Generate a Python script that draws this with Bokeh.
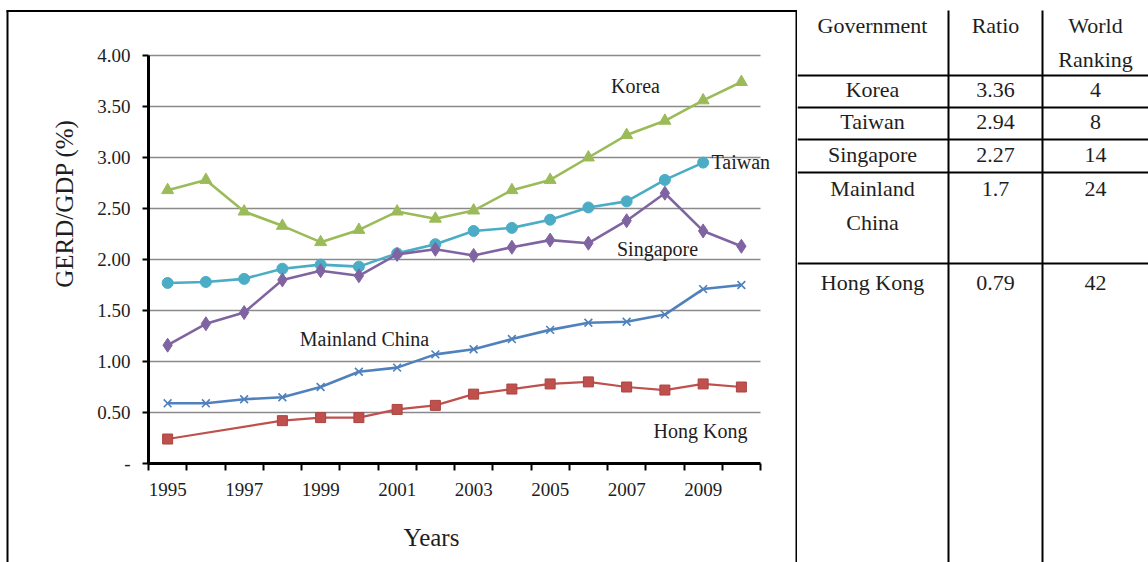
import math
from bokeh.plotting import figure
from bokeh.layouts import row
from bokeh.models import (LinearAxis, FixedTicker, Range1d, Label,
                          ColumnDataSource, CustomJSTickFormatter)
from bokeh.core.properties import value
from bokeh.embed import file_html
from bokeh.resources import INLINE

# ---------------- data ----------------
years = [1995, 1996, 1997, 1998, 1999, 2000, 2001, 2002,
         2003, 2004, 2005, 2006, 2007, 2008, 2009, 2010]
korea = [2.68, 2.78, 2.47, 2.33, 2.17, 2.29, 2.47, 2.40,
         2.48, 2.68, 2.78, 3.00, 3.22, 3.36, 3.56, 3.74]
taiwan_years = [1995, 1996, 1997, 1998, 1999, 2000, 2001, 2002,
                2003, 2004, 2005, 2006, 2007, 2008, 2009]
taiwan = [1.77, 1.78, 1.81, 1.91, 1.95, 1.93, 2.06, 2.15,
          2.28, 2.31, 2.39, 2.51, 2.57, 2.78, 2.95]
singapore = [1.16, 1.37, 1.48, 1.80, 1.89, 1.84, 2.05, 2.10,
             2.04, 2.12, 2.19, 2.16, 2.38, 2.65, 2.28, 2.13]
china = [0.59, 0.59, 0.63, 0.65, 0.75, 0.90, 0.94, 1.07,
         1.12, 1.22, 1.31, 1.38, 1.39, 1.46, 1.71, 1.75]
hk_years = [1995, 1998, 1999, 2000, 2001, 2002, 2003,
            2004, 2005, 2006, 2007, 2008, 2009, 2010]
hong_kong = [0.24, 0.42, 0.45, 0.45, 0.53, 0.57, 0.68,
             0.73, 0.78, 0.80, 0.75, 0.72, 0.78, 0.75]

y_ticks = [0, 0.5, 1.0, 1.5, 2.0, 2.5, 3.0, 3.5, 4.0]
x_label_years = [1995, 1997, 1999, 2001, 2003, 2005, 2007, 2009]
series_names = ["Korea", "Taiwan", "Singapore", "Mainland China", "Hong Kong"]
y_title = "GERD/GDP (%)"
x_title = "Years"

table_header = ["Government", "Ratio", "World\nRanking"]
table_gov = ["Korea", "Taiwan", "Singapore", "Mainland\nChina", "Hong Kong"]
table_ratio = ["3.36", "2.94", "2.27", "1.7", "0.79"]
table_rank = ["4", "8", "14", "24", "42"]

# ---------------- layout / style ----------------
CHART_W, TABLE_W, H = 797, 351, 562
PX_YEAR = 38.25      # pixels per category
PX_UNIT = 102.0      # pixels per 1.0 on y
AX_X0 = 148          # px of left edge of first category
AX_Y0 = 463          # px of y = 0
FONT = "Liberation Serif"
TXT = "#1e1e1e"

x_start = years[0] - 0.5 - AX_X0 / PX_YEAR
x_end = x_start + CHART_W / PX_YEAR
y_start = -(H - AX_Y0) / PX_UNIT
y_end = y_start + H / PX_UNIT
cat_lo = years[0] - 0.5
cat_hi = years[-1] + 0.5


def dx(px):
    return x_start + px / PX_YEAR


def dy(py):
    return y_end - py / PX_UNIT


p = figure(width=CHART_W, height=H,
           x_range=Range1d(x_start, x_end), y_range=Range1d(y_start, y_end),
           output_backend="svg", toolbar_location=None,
           x_axis_location=None, y_axis_location=None,
           min_border=0, outline_line_color=None)
p.grid.visible = False
p.background_fill_color = "white"

# panel borders (left, top, right)
p.segment(x0=[dx(7), dx(6), dx(796)], x1=[dx(7), dx(797), dx(796)],
          y0=[dy(10), dy(10.5), dy(10)], y1=[dy(H), dy(10.5), dy(H)],
          line_color="black", line_width=2)

# horizontal gridlines
gl = y_ticks[1:]
p.segment(x0=[cat_lo] * len(gl), x1=[cat_hi] * len(gl), y0=gl, y1=gl,
          line_color="#8a8a8a", line_width=1.6)

# axes
yfmt = CustomJSTickFormatter(code="return tick == 0 ? '-' : tick.toFixed(2);")
yax = LinearAxis(fixed_location=cat_lo, bounds=(y_ticks[0], y_ticks[-1]),
                 ticker=FixedTicker(ticks=y_ticks), formatter=yfmt,
                 axis_line_width=3, axis_line_color="black",
                 major_tick_out=6, major_tick_in=0, major_tick_line_width=2,
                 minor_tick_line_color=None, major_label_standoff=12,
                 major_label_text_font=FONT, major_label_text_font_size="19px",
                 major_label_text_color=TXT)
p.add_layout(yax, "left")

bounds_ticks = [y - 0.5 for y in years] + [years[-1] + 0.5]
xax = LinearAxis(fixed_location=0, bounds=(cat_lo, cat_hi),
                 ticker=FixedTicker(ticks=bounds_ticks),
                 formatter=CustomJSTickFormatter(code="return '';"),
                 axis_line_width=3, axis_line_color="black",
                 major_tick_out=7, major_tick_in=0, major_tick_line_width=2,
                 minor_tick_line_color=None)
p.add_layout(xax, "below")
xlab = LinearAxis(fixed_location=0, ticker=FixedTicker(ticks=x_label_years),
                  formatter=CustomJSTickFormatter(code="return tick.toFixed(0);"),
                  axis_line_color=None, major_tick_line_color=None,
                  major_tick_out=0, major_tick_in=0, minor_tick_line_color=None,
                  major_label_standoff=19,
                  major_label_text_font=FONT, major_label_text_font_size="19px",
                  major_label_text_color=TXT)
p.add_layout(xlab, "below")

# series
LW = 2.6
p.line(years, korea, line_color="#9BBB59", line_width=LW)
p.scatter(years, korea, marker="triangle", size=12, fill_color="#9BBB59", line_color="#9BBB59")
p.line(taiwan_years, taiwan, line_color="#4BACC6", line_width=LW)
p.scatter(taiwan_years, taiwan, marker="circle", size=11, fill_color="#4BACC6", line_color="#4BACC6")
p.line(years, singapore, line_color="#8064A2", line_width=LW)
p.scatter(years, singapore, marker="diamond", size=14, fill_color="#8064A2", line_color="#8064A2")
p.line(years, china, line_color="#4F81BD", line_width=LW)
p.scatter(years, china, marker="x", size=11, line_color="#4F81BD", line_width=1.6)
p.line(hk_years, hong_kong, line_color="#C0504D", line_width=LW - 0.4)
p.scatter(hk_years, hong_kong, marker="square", size=10, fill_color="#C0504D", line_color="#A94441")

# series labels (pixel anchors)
lab_px = [(635, 85, "center"), (711, 161, "left"), (657, 248, "center"),
          (364, 338, "center"), (700, 430, "center")]
for name, (lx, ly, al) in zip(series_names, lab_px):
    p.add_layout(Label(x=dx(lx), y=dy(ly), text=name, text_align=al,
                       text_baseline="middle", text_font=FONT,
                       text_font_size="20px", text_color=TXT))

p.add_layout(Label(x=dx(431), y=dy(537), text=x_title, text_align="center",
                   text_baseline="middle", text_font=FONT,
                   text_font_size="25px", text_color=TXT))
p.add_layout(Label(x=dx(64), y=dy(203), text=y_title, angle=math.pi / 2,
                   text_align="center", text_baseline="middle", text_font=FONT,
                   text_font_size="25px", text_color=TXT))

# ---------------- table ----------------
t = figure(width=TABLE_W, height=H, x_range=Range1d(0, TABLE_W),
           y_range=Range1d(H, 0), output_backend="svg", toolbar_location=None,
           x_axis_location=None, y_axis_location=None,
           min_border=0, outline_line_color=None)
t.grid.visible = False

col_x = [75, 198, 298]
vlines = [151, 245]
hlines = [75, 107, 139, 172, 263]
header_y = 25
row_y = [89, 121, 154, 188, 282]
line_step = 34

t.segment(x0=vlines, x1=vlines, y0=[10] * len(vlines), y1=[H] * len(vlines),
          line_color="black", line_width=2)
t.segment(x0=[0] * len(hlines), x1=[TABLE_W] * len(hlines), y0=hlines, y1=hlines,
          line_color="black", line_width=2)

tx, ty, tt = [], [], []


def put(text, x, y0):
    for i, part in enumerate(text.split("\n")):
        tx.append(x)
        ty.append(y0 + i * line_step)
        tt.append(part)


for j, h in enumerate(table_header):
    put(h, col_x[j], header_y)
for i in range(len(table_gov)):
    put(table_gov[i], col_x[0], row_y[i])
    put(table_ratio[i], col_x[1], row_y[i])
    put(table_rank[i], col_x[2], row_y[i])

t.text(x="x", y="y", text="t", source=ColumnDataSource(dict(x=tx, y=ty, t=tt)),
       text_align="center", text_baseline="middle", text_font=value(FONT),
       text_font_size="22px", text_color=TXT)

layout = row(p, t, spacing=0)
open("out.html", "w").write(file_html(layout, INLINE))
